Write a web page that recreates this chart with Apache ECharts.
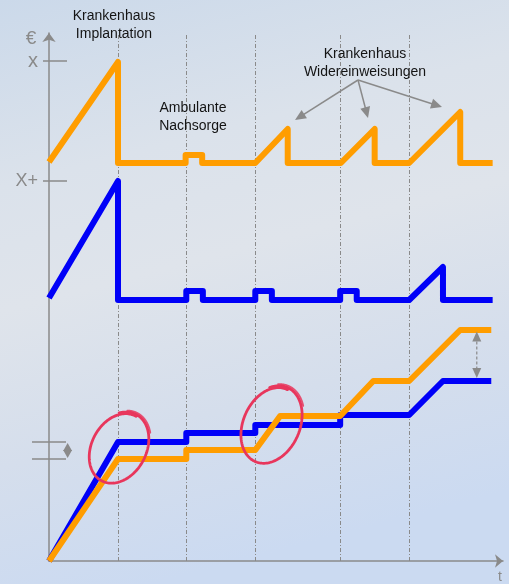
<!DOCTYPE html>
<html>
<head>
<meta charset="utf-8">
<script src="https://cdn.jsdelivr.net/npm/echarts@6/dist/echarts.min.js"></script>
<style>
  html, body { margin: 0; padding: 0; }
  #chart { width: 509px; height: 584px; }
</style>
</head>
<body>
<div id="chart"></div>
<script>
// Zeitpunkte der Ereignisse: Implantation, Nachsorge, Wiedereinweisungen
const eventTimes = [10, 19.9, 29.9, 42.2, 52.2];

// Kosten je Periode, Variante A (orange)
const periodCostA = [[0, 79.8], [10, 99.8], [10, 79.6], [19.8, 79.6], [19.8, 81.2], [22.2, 81.2], [22.2, 79.6],
  [29.9, 79.6], [34.6, 86.4], [34.6, 79.6], [42.3, 79.6], [47.2, 86.4], [47.2, 79.6],
  [52.2, 79.6], [59.6, 89.8], [59.6, 79.6], [64.3, 79.6]];

// Kosten je Periode, Variante B (blau)
const periodCostB = [[0, 52.6], [10, 76], [10, 52.2], [19.9, 52.2], [19.9, 54], [22.3, 54], [22.3, 52.2],
  [29.9, 52.2], [29.9, 54], [32.3, 54], [32.3, 52.2], [42.2, 52.2], [42.2, 54], [44.6, 54], [44.6, 52.2],
  [52.2, 52.2], [57.1, 58.8], [57.1, 52.2], [64.3, 52.2]];

// Kumulierte Kosten
const cumCostB = [[0, 0], [10, 23.8], [19.9, 23.8], [19.9, 25.6], [29.9, 25.6], [29.9, 27.2],
  [42.2, 27.2], [42.2, 29.2], [52.2, 29.2], [57.1, 36], [64.1, 36]];
const cumCostA = [[0, 0], [10, 20.4], [19.9, 20.4], [19.9, 22.2], [29.9, 22.2], [33.5, 29],
  [42.2, 29], [47, 36], [52.2, 36], [59.6, 46.2], [64.1, 46.2]];

// Beschriftete Werte der y-Achse
const yTickValues = [100, 76];
const yTickLabels = ['x', 'X+'];

const ORANGE = '#ff9d00';
const BLUE = '#0000f8';
const GREY = '#8a8a8a';

const chart = echarts.init(document.getElementById('chart'), null, { renderer: 'canvas' });

function lineSeries(data, color, z) {
  return {
    type: 'line', data: data, z: z, symbol: 'none', showSymbol: false, silent: true,
    lineStyle: { color: color, width: 6, join: 'round', cap: 'butt' },
    animation: false
  };
}

chart.setOption({
  animation: false,
  backgroundColor: {
    type: 'linear', x: 0, y: 0, x2: 0.3, y2: 1,
    colorStops: [
      { offset: 0, color: '#cbd9ea' },
      { offset: 0.3, color: '#dbe2eb' },
      { offset: 0.5, color: '#dfe4eb' },
      { offset: 0.75, color: '#d5deec' },
      { offset: 1, color: '#cbdaf1' }
    ]
  },
  grid: { left: 49, right: 6, top: 33, bottom: 23 },
  xAxis: {
    type: 'value', min: 0, max: 65.8,
    axisLine: { show: true, lineStyle: { color: GREY, width: 1.5 }, symbol: ['none', 'arrow'], symbolSize: [10, 8], onZero: false },
    axisTick: { show: false }, axisLabel: { show: false }, splitLine: { show: false }
  },
  yAxis: {
    type: 'value', min: 0, max: 105.6,
    axisLine: { show: true, lineStyle: { color: GREY, width: 1.5 }, symbol: ['none', 'arrow'], symbolSize: [10, 9], onZero: false },
    axisTick: { show: false }, axisLabel: { show: false }, splitLine: { show: false }
  },
  series: [
    {
      // Träger der gestrichelten Ereignislinien
      type: 'line', data: [[0, 0], [1, 0]], z: 1, silent: true, symbol: 'none',
      lineStyle: { opacity: 0 },
      markLine: {
        z: 1, silent: true, symbol: 'none', label: { show: false }, animation: false,
        lineStyle: { color: GREY, width: 1, type: [4, 2, 1, 2], opacity: 1 },
        data: eventTimes.map(t => [{ coord: [t, 0] }, { coord: [t, 105.6] }])
      }
    },
    lineSeries(periodCostA, ORANGE, 10),
    lineSeries(periodCostB, BLUE, 10),
    lineSeries(cumCostB, BLUE, 10),
    lineSeries(cumCostA, ORANGE, 11)
  ]
});

const px = (p) => chart.convertToPixel({ gridIndex: 0 }, p);

function arrowHead(tipX, tipY, fromX, fromY, len, wid) {
  const ang = Math.atan2(tipY - fromY, tipX - fromX);
  const bx = tipX - len * Math.cos(ang), by = tipY - len * Math.sin(ang);
  const nx = -Math.sin(ang) * wid / 2, ny = Math.cos(ang) * wid / 2;
  return {
    type: 'polygon', silent: true, z: 20,
    shape: { points: [[tipX, tipY], [bx + nx, by + ny], [bx - nx, by - ny]] },
    style: { fill: GREY }
  };
}

function pointer(x1, y1, x2, y2) {
  const ang = Math.atan2(y2 - y1, x2 - x1);
  const bx = x2 - 9 * Math.cos(ang), by = y2 - 9 * Math.sin(ang);
  return [
    { type: 'line', silent: true, z: 20, shape: { x1: x1, y1: y1, x2: bx, y2: by }, style: { stroke: GREY, lineWidth: 1.5 } },
    arrowHead(x2, y2, x1, y1, 11, 10)
  ];
}

// Handgezeichnete Markierungsschleife
function sketchLoop(cx, cy, a, b, phiDeg, startDeg, turns, s0, s1) {
  const pts = [];
  const phi = phiDeg * Math.PI / 180;
  const n = 160;
  for (let i = 0; i <= n; i++) {
    const t = startDeg * Math.PI / 180 + turns * 2 * Math.PI * i / n;
    const s = s0 + (s1 - s0) * i / n;
    const lx = a * s * Math.cos(t), ly = b * s * Math.sin(t);
    pts.push([cx + lx * Math.cos(phi) + ly * Math.sin(phi), cy - lx * Math.sin(phi) + ly * Math.cos(phi)]);
  }
  return pts;
}

function loopElements(cx, cy, a, b, phi) {
  const st = { stroke: '#e8365c', fill: null, lineJoin: 'round', lineCap: 'round' };
  return [
    { type: 'polyline', silent: true, z: 25, shape: { points: sketchLoop(cx, cy, a, b, phi, -35, 1.1, 1.0, 0.95) },
      style: Object.assign({ lineWidth: 2.8 }, st) },
    { type: 'polyline', silent: true, z: 25, shape: { points: sketchLoop(cx, cy, a, b, phi, -20, 0.18, 1.04, 1.05) },
      style: Object.assign({ lineWidth: 1.8, opacity: 0.85 }, st) }
  ];
}

function text(str, x, y, opt) {
  return {
    type: 'text', silent: true, z: 30,
    style: Object.assign({ text: str, x: x, y: y, align: 'center', verticalAlign: 'middle',
      font: '14px "Liberation Sans", Arial, sans-serif', fill: '#141414' }, opt || {})
  };
}

function buildGraphics() {
  const g = [];
  const origin = px([0, 0]);
  const ax = origin[0];

  // Achsenbeschriftungen
  g.push(text('€', ax - 18, 38.5, { font: '19px "Liberation Sans", Arial, sans-serif', fill: GREY }));
  yTickValues.forEach((v, i) => {
    const y = px([0, v])[1];
    g.push({ type: 'line', silent: true, z: 10, shape: { x1: ax - 6, y1: y, x2: ax + 18, y2: y }, style: { stroke: GREY, lineWidth: 1.5 } });
    g.push(text(yTickLabels[i], ax - 11, y + 0.5, { align: 'right', font: (i === 0 ? '20px' : '18px') + ' "Liberation Sans", Arial, sans-serif', fill: GREY }));
  });
  g.push(text('t', origin[0] + 451, origin[1] + 16, { font: '14px "Liberation Sans", Arial, sans-serif', fill: GREY }));

  // Differenz der ersten Stufe (links)
  const yB = px([0, cumCostB[1][1]])[1];
  const yA = px([0, cumCostA[1][1]])[1];
  [yB, yA].forEach(y => g.push({ type: 'line', silent: true, z: 10, shape: { x1: ax - 17, y1: y, x2: ax + 17, y2: y }, style: { stroke: GREY, lineWidth: 1.5 } }));
  const dx = px([2.7, 0])[0];
  const mid = (yA + yB) / 2;
  g.push(arrowHead(dx, yB + 1, dx, mid + 3, 8, 9));
  g.push(arrowHead(dx, yA - 1, dx, mid - 3, 8, 9));

  // Differenz am Ende (rechts)
  const rx = px([62, 0])[0];
  const yTop = px([0, cumCostA[cumCostA.length - 1][1]])[1] + 1.5;
  const yBot = px([0, cumCostB[cumCostB.length - 1][1]])[1] - 3;
  g.push({ type: 'line', silent: true, z: 10, shape: { x1: rx, y1: yTop + 10, x2: rx, y2: yBot - 10 }, style: { stroke: GREY, lineWidth: 1.2, lineDash: [3, 2] } });
  g.push(arrowHead(rx, yTop, rx, yTop + 20, 10, 9));
  g.push(arrowHead(rx, yBot, rx, yBot - 20, 10, 9));

  // Textbeschriftungen
  g.push(text('Krankenhaus', 114, 16));
  g.push(text('Implantation', 114, 34));
  g.push(text('Ambulante', 193, 108));
  g.push(text('Nachsorge', 193, 126));
  g.push(text('Krankenhaus', 365, 54));
  g.push(text('Widereinweisungen', 365, 72));

  // Hinweispfeile auf die Wiedereinweisungen
  [[295, 120], [368, 118], [442, 107]].forEach(p => g.push(...pointer(358, 80, p[0], p[1])));

  // Markierungen der Kostensprünge
  const c1 = px([10.1, 22.6]);
  const c2 = px([32.2, 27.2]);
  g.push(...loopElements(c1[0], c1[1], 38, 28, 62));
  g.push(...loopElements(c2[0], c2[1], 41, 29, 66));
  return g;
}

chart.setOption({ graphic: { elements: buildGraphics() } });
</script>
</body>
</html>
